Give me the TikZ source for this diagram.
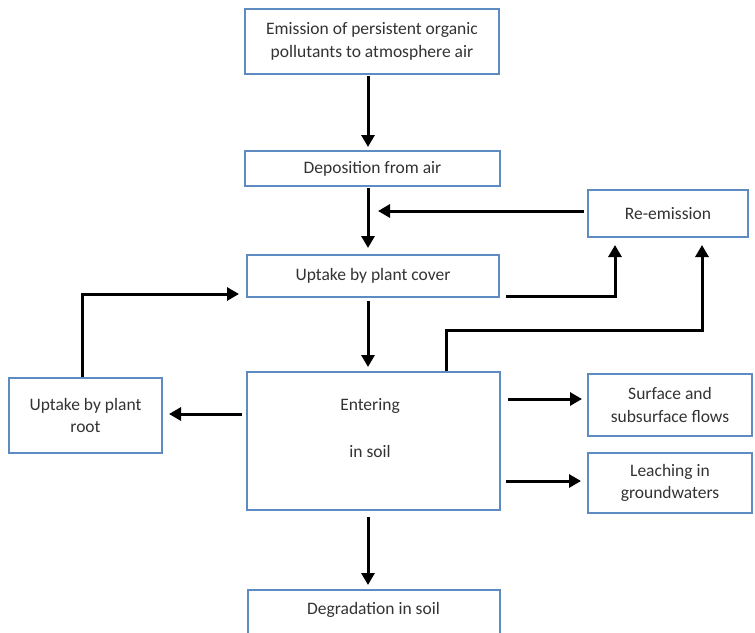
\documentclass[tikz,border=0pt]{standalone}
\usepackage{fontspec}
\setmainfont{Carlito}
\usepackage{xcolor}
\usetikzlibrary{arrows.meta}
\definecolor{boxblue}{HTML}{5E8BC2}
\definecolor{txtgray}{HTML}{333333}

\begin{document}
\begin{tikzpicture}[x=1pt,y=-1pt,
        box/.style={draw=boxblue, line width=2pt, fill=white, text=txtgray, align=center,
                font=\fontsize{17.5}{22.5}\selectfont, inner sep=0pt},
        arr/.style={line width=3pt, -{Triangle[width=13pt,length=12pt]}}]
        \useasboundingbox (0,0) rectangle (755,632);

        \node[box, minimum width=254pt, minimum height=65pt] (emis) at (372,41.5) {Emission of persistent organic\\pollutants to atmosphere air};
        \node[box, minimum width=255pt, minimum height=35pt] (depo) at (372.5,168.5) {Deposition from air};
        \node[box, minimum width=252pt, minimum height=42pt] (cover) at (373,276) {Uptake by plant cover};
        \node[box, minimum width=160pt, minimum height=47pt] (reem) at (668,213.5) {Re-emission};
        \node[box, minimum width=253pt, minimum height=138pt] (soil) at (373.5,441) {};
        \node[text=txtgray, align=center, font=\fontsize{17.5}{22.5}\selectfont] (soiltxt) at (370,428) {Entering\\[24pt]in soil};
        \node[box, minimum width=153pt, minimum height=75pt] (root) at (85.5,415.5) {Uptake by plant\\root};
        \node[box, minimum width=164pt, minimum height=62pt] (surf) at (670,405) {Surface and\\subsurface flows};
        \node[box, minimum width=164pt, minimum height=60pt] (leach) at (670,483) {Leaching in\\groundwaters};
        \node[box, minimum width=252pt, minimum height=46pt, text depth=9pt] (degr) at (373.5,613) {Degradation in soil};

        \coordinate (mid) at (368,0);
        \coordinate (reemtip) at (378,211);

        \draw[arr, shorten <=1pt, shorten >=3pt] (mid |- emis.south) -- (mid |- depo.north);
        \draw[arr, shorten <=1pt, shorten >=6pt] (mid |- depo.south) -- (mid |- cover.north);
        \draw[arr, shorten <=3pt] (reem.west |- reemtip) -- (reemtip);
        \draw[arr, shorten <=6pt, shorten >=7pt] ([yshift=-20pt]cover.east) -| ([xshift=-53pt]reem.south);
        \draw[arr, shorten >=7pt] ([xshift=72.5pt]soil.north) -- ++(0,-41) -| ([xshift=34pt]reem.south);
        \draw[arr, shorten <=3pt, shorten >=4pt] (mid |- cover.south) -- (mid |- soil.north);
        \draw[arr, shorten >=7pt] ([xshift=-3.5pt]root.north) |- ([yshift=-18pt]cover.west);
        \draw[arr, shorten <=4pt, shorten >=6pt] ([yshift=27pt]soil.west) -- ([yshift=27pt]soil.west -| root.east);
        \draw[arr, shorten <=7pt, shorten >=5pt] ([yshift=42pt]soil.east) -- ([yshift=42pt]soil.east -| surf.west);
        \draw[arr, shorten <=5pt, shorten >=6pt] ([yshift=-40pt]soil.east) -- ([yshift=-40pt]soil.east -| leach.west);
        \draw[arr, shorten <=6pt, shorten >=4pt] (mid |- soil.south) -- (mid |- degr.north);
\end{tikzpicture}
\end{document}
